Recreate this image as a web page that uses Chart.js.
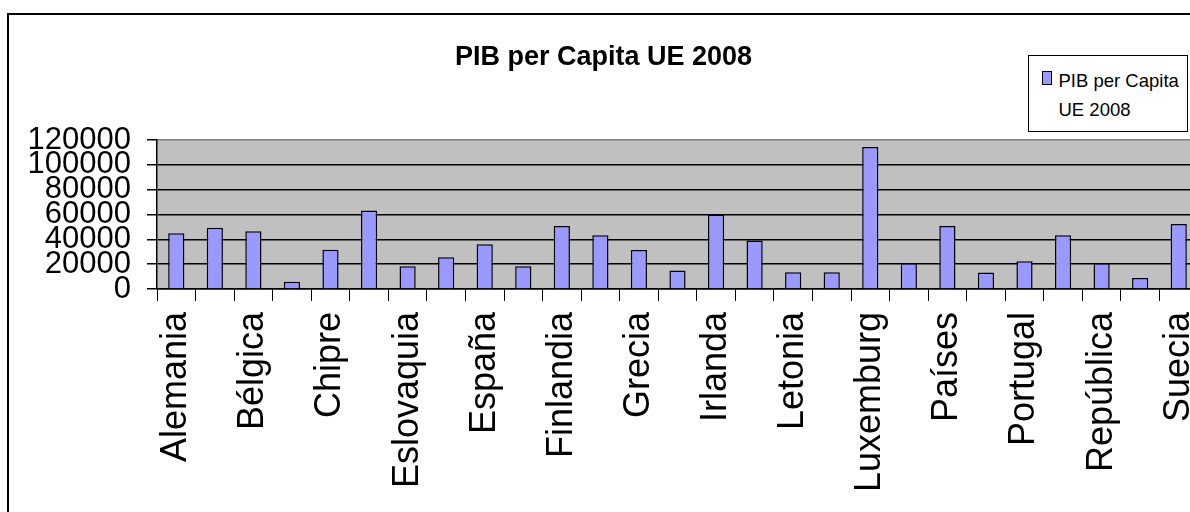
<!DOCTYPE html>
<html>
<head>
<meta charset="utf-8">
<script src="https://cdn.jsdelivr.net/npm/chart.js@4.4.1/dist/chart.umd.min.js"></script>
<style>
  html, body { margin: 0; padding: 0; background: #fff; overflow: hidden; width: 1190px; height: 512px; }
  #frame { position: absolute; left: 7px; top: 13px; width: 1190px; height: 520px; border: 2px solid #000; background: #fff; }
  #frame canvas { display: block; }
  #legend { position: absolute; left: 1028px; top: 55px; width: 160px; height: 77px; box-sizing: border-box;
            border: 1.5px solid #000; background: #fff; font-family: 'Liberation Sans', Arial, sans-serif;
            font-size: 18.5px; line-height: 29px; color: #000; }
  #legend .box { position: absolute; left: 12.8px; top: 15.2px; width: 10px; height: 14px; box-sizing: border-box; border: 1.5px solid #000; }
  #legend .txt { position: absolute; left: 29.5px; top: 10.2px; width: 126px; }
</style>
</head>
<body>
<div id="frame"><canvas id="chart" width="1190" height="520"></canvas></div>
<div id="legend"></div>
<script>
const chartTitle = 'PIB per Capita UE 2008';
const seriesName = 'PIB per Capita UE 2008';
const countries = [
  'Alemania', 'Austria', 'Bélgica', 'Bulgaria', 'Chipre', 'Dinamarca', 'Eslovaquia',
  'Eslovenia', 'España', 'Estonia', 'Finlandia', 'Francia', 'Grecia', 'Hungría',
  'Irlanda', 'Italia', 'Letonia', 'Lituania', 'Luxemburgo', 'Malta', 'Países Bajos',
  'Polonia', 'Portugal', 'Reino Unido', 'República Checa', 'Rumanía', 'Suecia'
];
const gdpPerCapita = [
  44900, 49400, 46500, 5900, 31700, 63200, 18300,
  25500, 36000, 18300, 50800, 43300, 31500, 15000,
  59900, 39000, 13400, 13400, 114300, 20700, 50800,
  13200, 22300, 43300, 20700, 8900, 52400
];
const tickLabels = [
  'Alemania', '', 'Bélgica', '', 'Chipre', '', 'Eslovaquia',
  '', 'España', '', 'Finlandia', '', 'Grecia', '',
  'Irlanda', '', 'Letonia', '', 'Luxemburg', '', 'Países',
  '', 'Portugal', '', 'República', '', 'Suecia'
];
const yMin = 0;
const yMax = 120000;
const yStep = 20000;

const FONT = "'Liberation Sans', Arial, Helvetica, sans-serif";

const plotBackground = {
  id: 'plotBackground',
  beforeDraw(chart) {
    const { ctx, chartArea } = chart;
    ctx.save();
    ctx.fillStyle = '#C0C0C0';
    ctx.fillRect(chartArea.left, chartArea.top, chartArea.right - chartArea.left, chartArea.bottom - chartArea.top);
    ctx.restore();
  }
};

const htmlLegend = {
  id: 'htmlLegend',
  afterUpdate(chart) {
    const el = document.getElementById('legend');
    el.innerHTML = '';
    const items = Chart.defaults.plugins.legend.labels.generateLabels(chart);
    items.forEach(item => {
      const box = document.createElement('div');
      box.className = 'box';
      box.style.background = item.fillStyle;
      const txt = document.createElement('div');
      txt.className = 'txt';
      txt.textContent = item.text;
      el.appendChild(box);
      el.appendChild(txt);
    });
  }
};

new Chart(document.getElementById('chart'), {
  type: 'bar',
  data: {
    labels: countries,
    datasets: [{
      label: seriesName,
      data: gdpPerCapita,
      backgroundColor: '#9999FF',
      borderColor: '#000',
      borderWidth: 1.5,
      barPercentage: 0.42,
      categoryPercentage: 1
    }]
  },
  options: {
    responsive: false,
    animation: false,
    devicePixelRatio: 1,
    layout: { padding: { left: 0, right: 1, top: 0, bottom: 0 } },
    plugins: {
      legend: { display: false },
      tooltip: { enabled: false },
      title: {
        display: true,
        text: chartTitle,
        color: '#000',
        font: { family: FONT, size: 27, weight: 'bold', lineHeight: 1.2 },
        padding: { top: 26, bottom: 66.6 }
      }
    },
    scales: {
      x: {
        offset: true,
        grid: { offset: true, drawOnChartArea: false, drawTicks: true, tickLength: 12, color: '#000', lineWidth: 1 },
        border: { display: true, color: '#000', width: 1.5 },
        ticks: {
          autoSkip: false, maxRotation: 90, minRotation: 90, padding: 11, color: '#000',
          font: { family: FONT, size: 36 },
          callback: (v, i) => tickLabels[i]
        },
        afterFit(s) { s.height = 246; s.paddingLeft = 0; s.paddingRight = 0; }
      },
      y: {
        min: yMin,
        max: yMax,
        ticks: {
          stepSize: yStep, autoSkip: false, padding: 16, color: '#000',
          font: { family: FONT, size: 31 },
          callback: v => String(v)
        },
        grid: {
          color: c => (c.tick && c.tick.value === yMax) ? '#808080' : '#000',
          tickColor: '#000', lineWidth: 1.5, tickLength: 10
        },
        border: { display: true, color: '#000', width: 1.5 },
        afterFit(s) { s.width = 148; }
      }
    }
  },
  plugins: [plotBackground, htmlLegend]
});
</script>
</body>
</html>
